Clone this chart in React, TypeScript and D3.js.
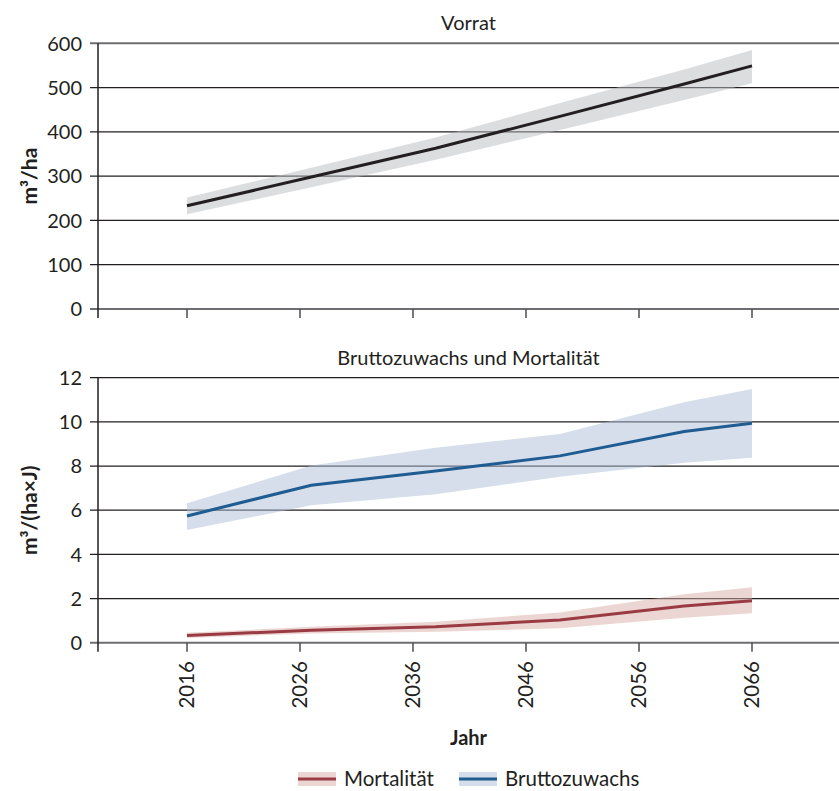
import * as d3 from 'd3'

const years = [2016, 2027, 2038, 2049, 2060, 2066]
const xTicks = [2016, 2026, 2036, 2046, 2056, 2066]

const vorrat = [233, 298, 363, 435, 508, 549]
const vorratLow = [214, 275, 337, 404, 472, 510]
const vorratHigh = [252, 319, 387, 465, 541, 585]

const brutto = [5.74, 7.13, 7.78, 8.46, 9.56, 9.94]
const bruttoLow = [5.1, 6.22, 6.72, 7.52, 8.15, 8.38]
const bruttoHigh = [6.31, 8.02, 8.83, 9.45, 10.89, 11.49]

const mort = [0.33, 0.56, 0.72, 1.03, 1.66, 1.9]
const mortLow = [0.21, 0.42, 0.5, 0.65, 1.13, 1.33]
const mortHigh = [0.45, 0.72, 0.95, 1.37, 2.19, 2.51]

const topTicks = [0, 100, 200, 300, 400, 500, 600]
const bottomTicks = [0, 2, 4, 6, 8, 10, 12]

const W = 839
const H = 791
const left = 98
const right = 839
const font = 'Lato, "Noto Sans", sans-serif'
const ink = '#231f20'

const x = d3.scaleLinear().domain([2016, 2066]).range([187, 752])
const yTop = d3.scaleLinear().domain([0, 600]).range([309, 43.3])
const yBot = d3.scaleLinear().domain([0, 12]).range([642.7, 377.7])

type Row = { year: number; v: number; lo: number; hi: number }
const rows = (v: number[], lo: number[], hi: number[]): Row[] =>
  years.map((year, i) => ({ year, v: v[i], lo: lo[i], hi: hi[i] }))

const series = {
  vorrat: rows(vorrat, vorratLow, vorratHigh),
  brutto: rows(brutto, bruttoLow, bruttoHigh),
  mort: rows(mort, mortLow, mortHigh),
}

function Panel({ y, ticks, title, label }: { y: d3.ScaleLinear<number, number>; ticks: number[]; title: string; label: string }) {
  const [y0, y1] = y.range()
  const top = Math.min(y0, y1)
  const base = Math.max(y0, y1)
  return (
    <g>
      <text x={(left + right) / 2} y={top - 13} textAnchor="middle" fontSize={20} fill={ink}>
        {title}
      </text>
      {ticks.map((t) => (
        <g key={t}>
          <line
            x1={left - 8}
            x2={right}
            y1={y(t)}
            y2={y(t)}
            stroke={t === 0 || t === 600 ? '#6d6e71' : ink}
            strokeWidth={t === 0 || t === 600 ? 2 : 1.2}
          />
          <text x={82} y={y(t)} dy="0.36em" textAnchor="end" fontSize={20} fill={ink}>
            {t}
          </text>
        </g>
      ))}
      <line x1={left} x2={left} y1={top} y2={base + 9} stroke={ink} strokeWidth={1.5} />
      {xTicks.map((t) => (
        <line key={t} x1={x(t)} x2={x(t)} y1={base} y2={base + 9} stroke="#4d4d4f" strokeWidth={1.5} />
      ))}
      <text
        transform={`translate(37,${(top + base) / 2}) rotate(-90)`}
        textAnchor="middle"
        fontSize={21}
        fontWeight="bold"
        fill={ink}
      >
        {label}
      </text>
    </g>
  )
}

function Band({ data, y, fill }: { data: Row[]; y: d3.ScaleLinear<number, number>; fill: string }) {
  const area = d3
    .area<Row>()
    .x((d) => x(d.year))
    .y0((d) => y(d.lo))
    .y1((d) => y(d.hi))
  return <path d={area(data) || ''} fill={fill} fillOpacity={0.5} />
}

function Line({ data, y, stroke }: { data: Row[]; y: d3.ScaleLinear<number, number>; stroke: string }) {
  const line = d3
    .line<Row>()
    .x((d) => x(d.year))
    .y((d) => y(d.v))
  return <path d={line(data) || ''} fill="none" stroke={stroke} strokeWidth={3} />
}

const legend = [
  { name: 'Mortalität', line: '#9a3b43', band: '#d9ada7', x: 298 },
  { name: 'Bruttozuwachs', line: '#1f5c92', band: '#abbdd5', x: 459 },
]

export default function App() {
  return (
    <svg
      width={W}
      height={H}
      viewBox={`0 0 ${W} ${H}`}
      style={{ position: 'absolute', left: 0, top: 0, background: '#fff' }}
      fontFamily={font}
    >
      <Panel y={yTop} ticks={topTicks} title="Vorrat" label="m³/ha" />
      <Panel y={yBot} ticks={bottomTicks} title="Bruttozuwachs und Mortalität" label="m³/(ha×J)" />

      <Band data={series.vorrat} y={yTop} fill="#b9bbbf" />
      <Line data={series.vorrat} y={yTop} stroke={ink} />

      <Band data={series.brutto} y={yBot} fill="#abbdd5" />
      <Band data={series.mort} y={yBot} fill="#d9ada7" />
      <Line data={series.brutto} y={yBot} stroke="#1f5c92" />
      <Line data={series.mort} y={yBot} stroke="#9a3b43" />

      {xTicks.map((t) => (
        <text
          key={t}
          transform={`translate(${x(t)},661) rotate(-90)`}
          textAnchor="end"
          dy="0.36em"
          fontSize={20.5}
          fill={ink}
        >
          {t}
        </text>
      ))}
      <text x={(left + right) / 2} y={745} textAnchor="middle" fontSize={20} fontWeight="bold" fill={ink}>
        Jahr
      </text>

      {legend.map((l) => (
        <g key={l.name}>
          <rect x={l.x} y={772} width={38} height={14} fill={l.band} fillOpacity={0.5} />
          <line x1={l.x} x2={l.x + 38} y1={779} y2={779} stroke={l.line} strokeWidth={3} />
          <text x={l.x + 46} y={779} dy="0.36em" fontSize={20.5} fill={ink}>
            {l.name}
          </text>
        </g>
      ))}
    </svg>
  )
}
